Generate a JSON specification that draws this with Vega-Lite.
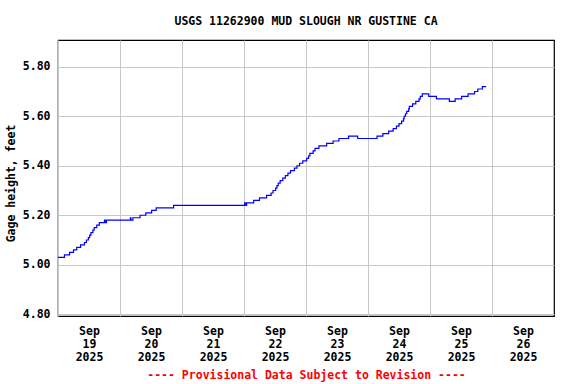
{
  "$schema": "https://vega.github.io/schema/vega-lite/v6.json",
  "width": 496,
  "height": 276,
  "autosize": {"type": "none"},
  "padding": {"left": 58, "top": 40, "right": 22, "bottom": 68},
  "background": "white",
  "title": {
    "text": "USGS 11262900 MUD SLOUGH NR GUSTINE CA",
    "font": "DejaVu Sans Mono",
    "fontSize": 11.5,
    "fontWeight": "bold",
    "color": "black",
    "anchor": "middle",
    "offset": 13
  },
  "config": {
    "view": {"stroke": "black", "strokeWidth": 1.2},
    "axis": {
      "labelFont": "DejaVu Sans Mono",
      "labelFontSize": 11.5,
      "labelFontWeight": "bold",
      "labelColor": "black",
      "titleFont": "DejaVu Sans Mono",
      "titleFontSize": 11.5,
      "titleFontWeight": "bold",
      "titleColor": "black",
      "gridColor": "#c8c8c8",
      "gridWidth": 1,
      "gridOpacity": 1,
      "ticks": false,
      "domain": false
    }
  },
  "data": {
    "values": [
      {"t": "2025-09-19T00:00:00Z", "h": 5.03},
      {"t": "2025-09-19T02:30:00Z", "h": 5.04},
      {"t": "2025-09-19T04:30:00Z", "h": 5.05},
      {"t": "2025-09-19T06:00:00Z", "h": 5.06},
      {"t": "2025-09-19T07:15:00Z", "h": 5.07},
      {"t": "2025-09-19T08:45:00Z", "h": 5.08},
      {"t": "2025-09-19T10:15:00Z", "h": 5.09},
      {"t": "2025-09-19T11:00:00Z", "h": 5.10},
      {"t": "2025-09-19T11:45:00Z", "h": 5.11},
      {"t": "2025-09-19T12:15:00Z", "h": 5.12},
      {"t": "2025-09-19T12:45:00Z", "h": 5.13},
      {"t": "2025-09-19T13:30:00Z", "h": 5.14},
      {"t": "2025-09-19T14:00:00Z", "h": 5.15},
      {"t": "2025-09-19T15:00:00Z", "h": 5.16},
      {"t": "2025-09-19T16:00:00Z", "h": 5.17},
      {"t": "2025-09-19T18:00:00Z", "h": 5.18},
      {"t": "2025-09-19T18:15:00Z", "h": 5.17},
      {"t": "2025-09-19T18:45:00Z", "h": 5.18},
      {"t": "2025-09-20T04:00:00Z", "h": 5.19},
      {"t": "2025-09-20T04:15:00Z", "h": 5.18},
      {"t": "2025-09-20T05:00:00Z", "h": 5.19},
      {"t": "2025-09-20T07:45:00Z", "h": 5.20},
      {"t": "2025-09-20T10:00:00Z", "h": 5.21},
      {"t": "2025-09-20T12:15:00Z", "h": 5.22},
      {"t": "2025-09-20T14:00:00Z", "h": 5.23},
      {"t": "2025-09-20T20:45:00Z", "h": 5.24},
      {"t": "2025-09-22T00:15:00Z", "h": 5.25},
      {"t": "2025-09-22T00:30:00Z", "h": 5.24},
      {"t": "2025-09-22T01:00:00Z", "h": 5.25},
      {"t": "2025-09-22T03:45:00Z", "h": 5.26},
      {"t": "2025-09-22T06:00:00Z", "h": 5.27},
      {"t": "2025-09-22T08:45:00Z", "h": 5.28},
      {"t": "2025-09-22T10:30:00Z", "h": 5.29},
      {"t": "2025-09-22T11:15:00Z", "h": 5.30},
      {"t": "2025-09-22T12:15:00Z", "h": 5.31},
      {"t": "2025-09-22T12:45:00Z", "h": 5.32},
      {"t": "2025-09-22T13:15:00Z", "h": 5.33},
      {"t": "2025-09-22T14:00:00Z", "h": 5.34},
      {"t": "2025-09-22T15:00:00Z", "h": 5.35},
      {"t": "2025-09-22T16:00:00Z", "h": 5.36},
      {"t": "2025-09-22T17:00:00Z", "h": 5.37},
      {"t": "2025-09-22T18:00:00Z", "h": 5.38},
      {"t": "2025-09-22T19:30:00Z", "h": 5.39},
      {"t": "2025-09-22T20:30:00Z", "h": 5.40},
      {"t": "2025-09-22T21:30:00Z", "h": 5.41},
      {"t": "2025-09-22T22:45:00Z", "h": 5.42},
      {"t": "2025-09-23T00:15:00Z", "h": 5.43},
      {"t": "2025-09-23T01:00:00Z", "h": 5.44},
      {"t": "2025-09-23T01:30:00Z", "h": 5.45},
      {"t": "2025-09-23T02:45:00Z", "h": 5.46},
      {"t": "2025-09-23T03:30:00Z", "h": 5.47},
      {"t": "2025-09-23T05:00:00Z", "h": 5.48},
      {"t": "2025-09-23T08:00:00Z", "h": 5.49},
      {"t": "2025-09-23T10:30:00Z", "h": 5.50},
      {"t": "2025-09-23T12:45:00Z", "h": 5.51},
      {"t": "2025-09-23T16:30:00Z", "h": 5.52},
      {"t": "2025-09-23T20:00:00Z", "h": 5.51},
      {"t": "2025-09-24T03:30:00Z", "h": 5.52},
      {"t": "2025-09-24T05:45:00Z", "h": 5.53},
      {"t": "2025-09-24T08:00:00Z", "h": 5.54},
      {"t": "2025-09-24T09:45:00Z", "h": 5.55},
      {"t": "2025-09-24T11:00:00Z", "h": 5.56},
      {"t": "2025-09-24T12:00:00Z", "h": 5.57},
      {"t": "2025-09-24T13:00:00Z", "h": 5.58},
      {"t": "2025-09-24T13:45:00Z", "h": 5.59},
      {"t": "2025-09-24T14:00:00Z", "h": 5.60},
      {"t": "2025-09-24T14:30:00Z", "h": 5.61},
      {"t": "2025-09-24T15:00:00Z", "h": 5.62},
      {"t": "2025-09-24T15:45:00Z", "h": 5.63},
      {"t": "2025-09-24T16:00:00Z", "h": 5.64},
      {"t": "2025-09-24T17:15:00Z", "h": 5.65},
      {"t": "2025-09-24T18:30:00Z", "h": 5.66},
      {"t": "2025-09-24T19:45:00Z", "h": 5.67},
      {"t": "2025-09-24T20:15:00Z", "h": 5.68},
      {"t": "2025-09-24T21:00:00Z", "h": 5.69},
      {"t": "2025-09-24T23:30:00Z", "h": 5.68},
      {"t": "2025-09-25T02:30:00Z", "h": 5.67},
      {"t": "2025-09-25T07:30:00Z", "h": 5.66},
      {"t": "2025-09-25T09:45:00Z", "h": 5.67},
      {"t": "2025-09-25T12:15:00Z", "h": 5.68},
      {"t": "2025-09-25T14:45:00Z", "h": 5.69},
      {"t": "2025-09-25T17:15:00Z", "h": 5.70},
      {"t": "2025-09-25T18:30:00Z", "h": 5.71},
      {"t": "2025-09-25T20:15:00Z", "h": 5.72},
      {"t": "2025-09-25T21:45:00Z", "h": 5.72}
    ]
  },
  "mark": {"type": "line", "interpolate": "step-after", "color": "#0000ff", "strokeWidth": 1.2, "clip": true},
  "encoding": {
    "x": {
      "field": "t",
      "type": "temporal",
      "scale": {
        "type": "utc",
        "domain": [
          {"year": 2025, "month": 9, "date": 19, "utc": true},
          {"year": 2025, "month": 9, "date": 27, "utc": true}
        ],
        "nice": false
      },
      "axis": {
        "values": [
          {"year": 2025, "month": 9, "date": 19, "utc": true},
          {"year": 2025, "month": 9, "date": 20, "utc": true},
          {"year": 2025, "month": 9, "date": 21, "utc": true},
          {"year": 2025, "month": 9, "date": 22, "utc": true},
          {"year": 2025, "month": 9, "date": 23, "utc": true},
          {"year": 2025, "month": 9, "date": 24, "utc": true},
          {"year": 2025, "month": 9, "date": 25, "utc": true},
          {"year": 2025, "month": 9, "date": 26, "utc": true}
        ],
        "labelExpr": "[utcFormat(datum.value, '%b'), utcFormat(datum.value, '%d'), utcFormat(datum.value, '%Y')]",
        "labelOffset": 31,
        "labelFlush": false,
        "labelOverlap": false,
        "labelAlign": "center",
        "labelBaseline": "top",
        "labelLineHeight": 13,
        "labelPadding": 9,
        "title": "---- Provisional Data Subject to Revision ----",
        "titleColor": "#ff0000",
        "titlePadding": 7
      }
    },
    "y": {
      "field": "h",
      "type": "quantitative",
      "scale": {"domain": [4.793, 5.908], "nice": false, "zero": false},
      "axis": {
        "values": [4.8, 5.0, 5.2, 5.4, 5.6, 5.8],
        "format": ".2f",
        "labelFlush": false,
        "labelPadding": 8,
        "title": "Gage height, feet",
        "titlePadding": 6,
        "titleY": 143
      }
    }
  }
}
